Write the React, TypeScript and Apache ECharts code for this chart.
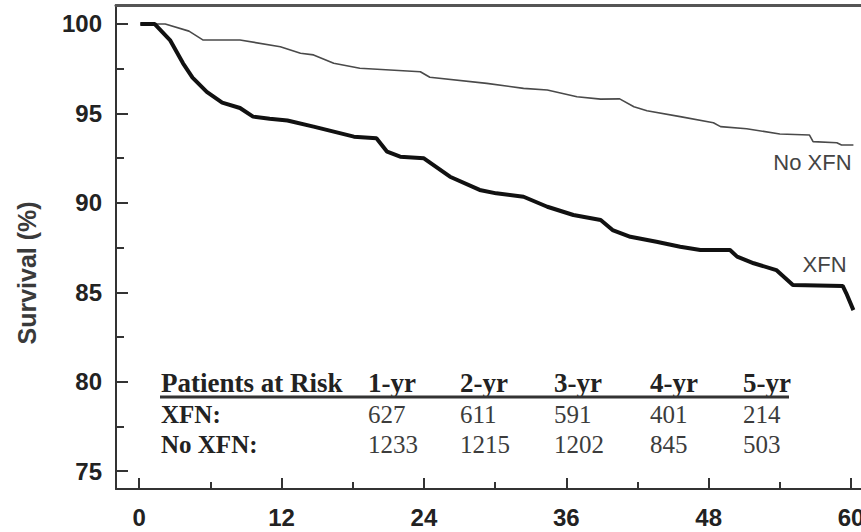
import React, { useEffect, useRef } from "react";
import * as echarts from "echarts";

// ---- Data ----
const noXfnCurve: [number, number][] = [
  [0.1, 100], [2.2, 100], [4.2, 99.6], [5.4, 99.1], [8.5, 99.1], [11.9, 98.73],
  [13.6, 98.36], [14.7, 98.27], [16.4, 97.8], [18.6, 97.52], [23.7, 97.33], [24.5, 97.02],
  [29.3, 96.68], [32.4, 96.4], [34.4, 96.31], [36.9, 95.93], [38.9, 95.8], [40.5, 95.81],
  [41.7, 95.37], [42.8, 95.15], [45.6, 94.82], [48.4, 94.48], [49.0, 94.26], [51.2, 94.14],
  [54.0, 93.85], [56.5, 93.79], [56.8, 93.42], [58.8, 93.36], [59.2, 93.23], [60.2, 93.23],
];

const xfnCurve: [number, number][] = [
  [0.1, 100], [1.3, 100], [2.6, 99.1], [3.7, 97.8], [4.5, 97.0], [5.7, 96.2],
  [7.0, 95.6], [8.5, 95.3], [9.6, 94.82], [11.0, 94.7], [12.5, 94.6], [14.7, 94.26],
  [18.1, 93.7], [20.0, 93.61], [20.9, 92.86], [22.0, 92.58], [24.0, 92.49], [26.2, 91.46],
  [28.7, 90.72], [30.1, 90.53], [32.4, 90.34], [34.4, 89.78], [36.6, 89.32], [38.9, 89.04],
  [39.9, 88.48], [41.4, 88.1], [43.6, 87.82], [45.6, 87.54], [47.3, 87.36], [49.8, 87.36],
  [50.4, 86.99], [51.8, 86.62], [53.7, 86.24], [55.1, 85.4], [59.3, 85.35], [59.6, 84.94],
  [60.2, 84.0],
];

const xTicks = [0, 12, 24, 36, 48, 60];
const xMinorTicks = [6, 18, 30, 42, 54];
const yTicks = [75, 80, 85, 90, 95, 100];
const yMinorTicks = [77.5, 82.5, 87.5, 92.5, 97.5];

const riskTitle = "Patients at Risk";
const riskHeaders = ["1-yr", "2-yr", "3-yr", "4-yr", "5-yr"];
const riskRowLabels = ["XFN:", "No XFN:"];
const riskXfn = [627, 611, 591, 401, 214];
const riskNoXfn = [1233, 1215, 1202, 845, 503];

const seriesNames = ["No XFN", "XFN"];
const yAxisTitle = "Survival (%)";

// ---- Layout ----
const X_MIN = -1.95;
const X_MAX = 60.84;
const Y_MIN = 74;
const Y_MAX = 101.06;
const labelAnchorNoXfn: [number, number] = [56.75, 92.25];
const labelAnchorXfn: [number, number] = [57.77, 86.55];

const tableLabelX = 161;
const tableColX = [368, 460, 554, 650, 743];
const tableHeaderY = 383;
const tableRowY = [414, 444];
const tableLine = { x1: 160, x2: 789, y: 397 };

const serif = "'Liberation Serif', 'Times New Roman', serif";
const sans = "'Liberation Sans', Arial, sans-serif";

export default function App() {
  const ref = useRef<HTMLDivElement>(null);

  useEffect(() => {
    if (!ref.current) return;
    const chart = echarts.init(ref.current, undefined, { renderer: "svg" });

    const graphics: any[] = [];
    graphics.push({
      type: "text",
      x: 27,
      y: 273,
      rotation: Math.PI / 2,
      style: {
        text: yAxisTitle,
        fontFamily: sans,
        fontSize: 25,
        fontWeight: "bold",
        fill: "#3a3a3a",
        align: "center",
        verticalAlign: "middle",
      },
    });
    graphics.push({
      type: "text",
      x: tableLabelX,
      y: tableHeaderY,
      style: { text: riskTitle, fontFamily: serif, fontSize: 27, fontWeight: "bold", fill: "#222", align: "left", verticalAlign: "middle" },
    });
    riskHeaders.forEach((h, i) => {
      graphics.push({
        type: "text",
        x: tableColX[i],
        y: tableHeaderY,
        style: { text: h, fontFamily: serif, fontSize: 27, fontWeight: "bold", fill: "#222", align: "left", verticalAlign: "middle" },
      });
    });
    graphics.push({
      type: "line",
      shape: { x1: tableLine.x1, y1: tableLine.y, x2: tableLine.x2, y2: tableLine.y },
      style: { stroke: "#333", lineWidth: 3 },
    });
    const rows = [riskXfn, riskNoXfn];
    riskRowLabels.forEach((lab, r) => {
      graphics.push({
        type: "text",
        x: tableLabelX,
        y: tableRowY[r],
        style: { text: lab, fontFamily: serif, fontSize: 25, fontWeight: "bold", fill: "#222", align: "left", verticalAlign: "middle" },
      });
      rows[r].forEach((v, i) => {
        graphics.push({
          type: "text",
          x: tableColX[i],
          y: tableRowY[r],
          style: { text: String(v), fontFamily: serif, fontSize: 25, fill: "#3c3c3c", align: "left", verticalAlign: "middle" },
        });
      });
    });

    const labelStyle = { fontFamily: sans, fontSize: 22, color: "#444" };

    chart.setOption({
      animation: false,
      backgroundColor: "#fff",
      grid: { left: 116, right: 0, top: 5, bottom: 43, containLabel: false, outerBoundsMode: "none" },
      xAxis: [
        {
          type: "value", min: X_MIN, max: X_MAX, position: "bottom",
          axisLine: { show: true, onZero: false, lineStyle: { color: "#333", width: 2 } },
          axisTick: { show: true, inside: true, length: 11, customValues: xTicks, lineStyle: { color: "#333", width: 2 } },
          axisLabel: { show: true, customValues: xTicks, margin: 16, fontFamily: sans, fontWeight: "bold", fontSize: 24, color: "#222" },
          splitLine: { show: false },
        },
        {
          type: "value", min: X_MIN, max: X_MAX, position: "bottom",
          axisLine: { show: false, onZero: false },
          axisTick: { show: true, inside: true, length: 7, customValues: xMinorTicks, lineStyle: { color: "#333", width: 2 } },
          axisLabel: { show: false },
          splitLine: { show: false },
        },
        {
          type: "value", min: X_MIN, max: X_MAX, position: "top",
          axisLine: { show: true, onZero: false, lineStyle: { color: "#555", width: 3 } },
          axisTick: { show: false },
          axisLabel: { show: false },
          splitLine: { show: false },
        },
      ],
      yAxis: [
        {
          type: "value", min: Y_MIN, max: Y_MAX, position: "left",
          axisLine: { show: true, onZero: false, lineStyle: { color: "#333", width: 2 } },
          axisTick: { show: true, inside: true, length: 12, customValues: yTicks, lineStyle: { color: "#333", width: 2 } },
          axisLabel: { show: true, customValues: yTicks, margin: 14, fontFamily: sans, fontWeight: "bold", fontSize: 24, color: "#222" },
          splitLine: { show: false },
        },
        {
          type: "value", min: Y_MIN, max: Y_MAX, position: "left",
          axisLine: { show: false, onZero: false },
          axisTick: { show: true, inside: true, length: 8, customValues: yMinorTicks, lineStyle: { color: "#333", width: 2 } },
          axisLabel: { show: false },
          splitLine: { show: false },
        },
      ],
      series: [
        {
          name: seriesNames[0],
          type: "line",
          xAxisIndex: 0,
          yAxisIndex: 0,
          data: noXfnCurve,
          showSymbol: false,
          symbol: "none",
          lineStyle: { color: "#4a4a4a", width: 1.6 },
          markPoint: {
            symbol: "circle",
            symbolSize: 1,
            silent: true,
            itemStyle: { color: "rgba(0,0,0,0)" },
            label: { show: true, position: "inside", formatter: seriesNames[0], ...labelStyle },
            data: [{ coord: labelAnchorNoXfn }],
          },
        },
        {
          name: seriesNames[1],
          type: "line",
          xAxisIndex: 0,
          yAxisIndex: 0,
          data: xfnCurve,
          showSymbol: false,
          symbol: "none",
          lineStyle: { color: "#111", width: 4 },
          markPoint: {
            symbol: "circle",
            symbolSize: 1,
            silent: true,
            itemStyle: { color: "rgba(0,0,0,0)" },
            label: { show: true, position: "inside", formatter: seriesNames[1], ...labelStyle },
            data: [{ coord: labelAnchorXfn }],
          },
        },
      ],
      graphic: graphics,
    });

    return () => chart.dispose();
  }, []);

  return (
    <div
      ref={ref}
      style={{ position: "fixed", left: 0, top: 0, width: 861, height: 532 }}
    />
  );
}
